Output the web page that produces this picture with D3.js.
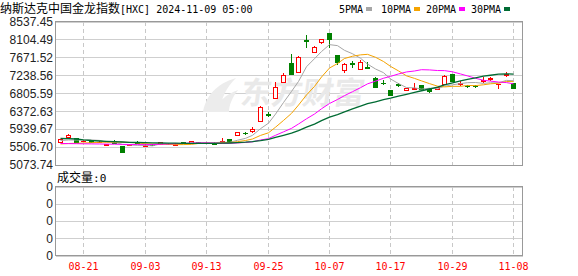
<!DOCTYPE html>
<html>
<head>
<meta charset="utf-8">
<script src="https://cdn.jsdelivr.net/npm/d3@7"></script>
<style>
  body { margin: 0; background: #fff; }
  svg { display: block; }
</style>
</head>
<body>
<svg id="chart" width="578" height="276"></svg>
<script>
// DATA
var dates = ["08-16","08-19","08-20","08-21","08-22","08-23","08-26","08-27","08-28","08-29","08-30",
  "09-03","09-04","09-05","09-06","09-09","09-10","09-11","09-12","09-13","09-16","09-17","09-18","09-19","09-20","09-23","09-24","09-25","09-26","09-27","09-30",
  "10-01","10-02","10-03","10-04","10-07","10-08","10-09","10-10","10-11","10-14","10-15","10-16","10-17","10-18","10-21","10-22","10-23","10-24","10-25","10-28","10-29","10-30","10-31",
  "11-01","11-04","11-05","11-06","11-07","11-08"];

var open  = [5636,5742,5725,5660,5670,5622,5549,5660,5532,5560,5628,5540,5570,5573,5585,5560,5622,5605,5625,5610,5610,5629,5700,5805,5855,5894,6143,6300,6698,7085,7543,7326,8080,7809,8036,8253,7729,7367,7530,7384,7447,7181,7060,6884,7032,6884,6901,7005,6925,6901,7036,7263,7025,6990,6985,7110,7160,7020,7245,7041];
var high  = [5713,5810,5735,5680,5680,5650,5590,5670,5540,5580,5641,5570,5575,5630,5595,5612,5630,5660,5640,5625,5620,5718,5710,5875,5880,5990,6491,6345,7070,7302,7753,7712,8212,7940,8115,8260,7740,7536,7584,7608,7553,7205,7125,6890,7046,6935,7046,7015,6935,6965,7235,7270,7101,7008,7000,7191,7205,7040,7311,7045];
var low   = [5629,5730,5605,5645,5612,5615,5525,5600,5363,5550,5590,5530,5550,5565,5570,5540,5595,5598,5600,5600,5565,5612,5620,5800,5800,5845,6120,6240,6690,7080,7260,7302,7891,7770,7987,7891,7488,7287,7422,7375,7400,6940,7005,6750,6964,6875,6895,6890,6804,6890,7030,7095,6990,6940,6940,7046,7101,6901,7205,6901];
var close = [5701,5791,5617,5665,5622,5640,5581,5612,5388,5570,5598,5564,5560,5622,5575,5580,5600,5653,5615,5615,5575,5665,5628,5870,5845,5943,6466,6290,6964,7246,7278,7674,8070,7930,8108,8115,7553,7500,7520,7567,7408,6964,7050,6764,7010,6925,6932,6901,6860,6957,7229,7101,7045,6975,6975,7125,7175,7036,7270,6932];

var ma5  = [5665,5677,5677,5677,5679,5667,5625,5624,5569,5558,5550,5546,5536,5583,5584,5580,5587,5606,5605,5613,5612,5625,5620,5671,5717,5790,5950,6083,6302,6582,6849,7090,7446,7640,7812,7979,7955,7841,7759,7651,7510,7392,7302,7151,7039,6943,6936,6906,6926,6915,6976,7010,7038,7061,7065,7044,7059,7057,7116,7108];
var ma10 = [5581,5593,5598,5605,5612,5622,5624,5627,5624,5619,5608,5586,5580,5576,5571,5565,5567,5571,5594,5598,5596,5606,5613,5638,5665,5701,5788,5851,5986,6149,6320,6520,6765,6971,7197,7414,7523,7644,7699,7732,7745,7674,7572,7455,7345,7226,7164,7104,7038,6977,6959,6973,6972,6994,6990,7010,7034,7048,7089,7086];
var ma20 = [5593,5590,5588,5585,5583,5581,5578,5576,5571,5568,5566,5566,5568,5574,5581,5588,5595,5602,5607,5608,5602,5596,5596,5607,5618,5633,5677,5711,5790,5874,5958,6063,6189,6304,6431,6558,6655,6748,6843,6940,7032,7097,7168,7213,7271,7320,7343,7374,7369,7354,7352,7323,7272,7224,7168,7118,7099,7076,7063,7032];
var ma30 = [5713,5711,5701,5682,5665,5653,5646,5639,5629,5622,5617,5612,5607,5605,5602,5600,5598,5598,5598,5598,5598,5600,5605,5614,5624,5639,5663,5694,5738,5789,5841,5904,5986,6061,6144,6227,6292,6355,6426,6493,6553,6600,6650,6688,6736,6780,6825,6866,6908,6953,7008,7056,7103,7140,7177,7217,7240,7265,7275,7265];

var yTicks = [5073.74, 5506.70, 5939.67, 6372.63, 6805.59, 7238.56, 7671.52, 8104.49, 8537.45];
var xTicks = ["08-21","09-03","09-13","09-25","10-07","10-17","10-29","11-08"];
var volTickLabels = ["0","0","0","0","0"];
var volumeNow = 0;

var maNames = ["5PMA","10PMA","20PMA","30PMA"];
var maColors = ["#a6a6a6","#f5a300","#ff00ff","#006b33"];

// LAYOUT
var svg = d3.select("#chart");
var L = 55.5, R = 522.5, T = 21.5, B = 165;
var VT = 186.5, VB = 255.5;
var cjk = "'Noto Sans CJK SC', sans-serif";
var mono = "'DejaVu Sans Mono', 'Liberation Mono', monospace";
var sans = "'Liberation Sans', Arial, sans-serif";

var x = d3.scaleBand().domain(dates).range([56.4, 517.2]);
function cx(d) { return Math.round(x(d) + x.bandwidth() / 2) + 0.5; }

var y = d3.scaleLinear().domain([yTicks[0], yTicks[yTicks.length - 1]]).range([B, T]);
var vy = d3.scaleLinear().domain([0, volTickLabels.length - 1]).range([VB, VT]);

// title
var title = svg.append("text").attr("x", 0).attr("y", 13).attr("fill", "#000");
title.append("tspan").style("font", "12px " + cjk).text("纳斯达克中国金龙指数");
title.append("tspan").style("font", "10px " + mono).text("[HXC] 2024-11-09 05:00");

// legend
var lx = 339;
maNames.forEach(function(n, i) {
  svg.append("text").attr("x", lx).attr("y", 13).style("font", "10px " + mono).attr("fill", "#000").text(n);
  lx += n.length * 6 + 3;
  svg.append("rect").attr("x", lx).attr("y", 7).attr("width", 6).attr("height", 4).attr("fill", maColors[i]);
  lx += 6 + (i == 0 ? 9 : 6);
});

// main grid
var grid = svg.append("g").attr("shape-rendering", "crispEdges");
grid.selectAll(".hg").data(yTicks).enter().append("line")
  .attr("x1", L).attr("x2", R)
  .attr("y1", function(d) { return Math.round(y(d)) + 0.5; })
  .attr("y2", function(d) { return Math.round(y(d)) + 0.5; })
  .attr("stroke", "#cfcfcf");
grid.selectAll(".vg").data(xTicks).enter().append("line")
  .attr("x1", cx).attr("x2", cx).attr("y1", T).attr("y2", B)
  .attr("stroke", "#c8c8c8").attr("stroke-dasharray", "4,3");

// watermark (logo swoosh + name)
svg.append("path")
  .attr("d", "M203,112 C206,96 216,84 236,78 C226,88 221,98 220,112 Z M214,112 C218,102 226,94 238,90 C232,98 229,105 229,112 Z")
  .attr("fill", "#ececec");
svg.append("text").attr("x", 240).attr("y", 104)
  .attr("transform", "skewX(-8) translate(14,0)")
  .style("font", "bold 31px " + cjk).attr("fill", "#e9e9e9").text("东方财富");

// y labels
svg.selectAll(".yl").data(yTicks).enter().append("text")
  .attr("x", 53).attr("y", function(d) { return y(d); }).attr("dy", "0.36em")
  .attr("text-anchor", "end").style("font", "12px " + sans).attr("fill", "#222")
  .text(function(d) { return d.toFixed(2); });

// candles
var candles = svg.append("g").attr("shape-rendering", "crispEdges");
dates.forEach(function(d, i) {
  var up = close[i] >= open[i];
  var col = up ? "#ff0000" : "#008000";
  var c = cx(d);
  var top = Math.round(y(Math.max(open[i], close[i])));
  var bot = Math.round(y(Math.min(open[i], close[i])));
  candles.append("line").attr("x1", c).attr("x2", c)
    .attr("y1", y(high[i])).attr("y2", y(low[i])).attr("stroke", col);
  if (bot - top < 1) {
    candles.append("line").attr("x1", c - 2.5).attr("x2", c + 2.5)
      .attr("y1", top + 0.5).attr("y2", top + 0.5).attr("stroke", col);
  } else if (up) {
    candles.append("rect").attr("x", c - 2).attr("y", top + 0.5)
      .attr("width", 4).attr("height", bot - top)
      .attr("fill", "#fff").attr("stroke", col);
  } else {
    candles.append("rect").attr("x", c - 2.5).attr("y", top)
      .attr("width", 5).attr("height", bot - top + 1).attr("fill", col);
  }
});

// moving averages
[ma5, ma10, ma20, ma30].forEach(function(s, k) {
  var line = d3.line().x(function(v, i) { return cx(dates[i]); }).y(function(v) { return y(v); });
  svg.append("path").datum(s).attr("d", line).attr("fill", "none")
    .attr("stroke", maColors[k]).attr("stroke-width", k == 3 ? 1.3 : 1);
});

// main border
svg.append("rect").attr("x", L).attr("y", T).attr("width", R - L).attr("height", B - T)
  .attr("fill", "none").attr("stroke", "#999").attr("shape-rendering", "crispEdges");

// volume panel
var vol = svg.append("text").attr("x", 57).attr("y", 182).attr("fill", "#000");
vol.append("tspan").style("font", "12px " + cjk).text("成交量");
vol.append("tspan").style("font", "11px " + mono).text(":" + volumeNow);

var vg = svg.append("g").attr("shape-rendering", "crispEdges");
vg.selectAll(".vh").data(volTickLabels).enter().append("line")
  .attr("x1", L).attr("x2", R)
  .attr("y1", function(d, i) { return Math.round(vy(i)) + 0.5; })
  .attr("y2", function(d, i) { return Math.round(vy(i)) + 0.5; })
  .attr("stroke", "#cfcfcf");
vg.selectAll(".vv").data(xTicks).enter().append("line")
  .attr("x1", cx).attr("x2", cx).attr("y1", VT).attr("y2", VB)
  .attr("stroke", "#c8c8c8").attr("stroke-dasharray", "4,3");
vg.append("rect").attr("x", L).attr("y", VT).attr("width", R - L).attr("height", VB - VT)
  .attr("fill", "none").attr("stroke", "#999");

svg.selectAll(".vl").data(volTickLabels).enter().append("text")
  .attr("x", 53).attr("y", function(d, i) { return vy(i); }).attr("dy", "0.36em")
  .attr("text-anchor", "end").style("font", "12px " + sans).attr("fill", "#222")
  .text(function(d) { return d; });

// x labels
svg.selectAll(".xl").data(xTicks).enter().append("text")
  .attr("x", cx).attr("y", 270).attr("text-anchor", "middle")
  .style("font", "10px " + mono).attr("fill", "#ff0000")
  .text(function(d) { return d; });
</script>
</body>
</html>
